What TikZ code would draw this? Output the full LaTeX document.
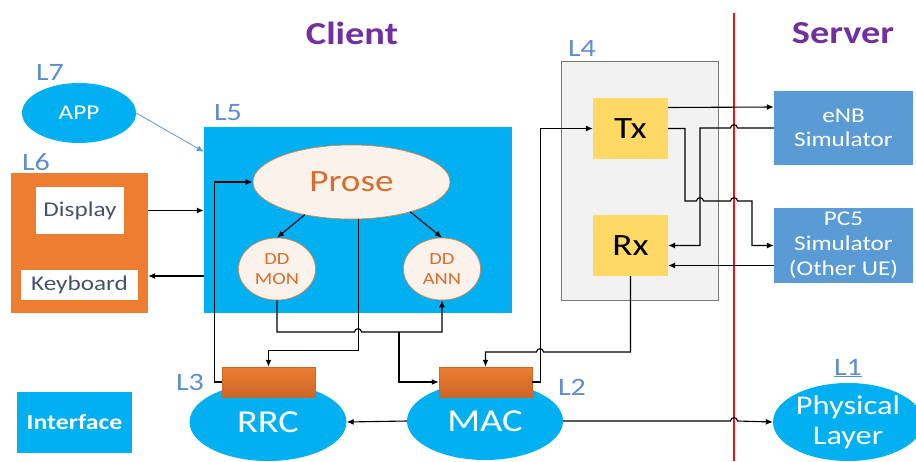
\documentclass[tikz,border=0pt]{standalone}
\usepackage{fontspec}
\setmainfont{Carlito}[FakeStretch=1.2]
\usepackage{xcolor}
\usetikzlibrary{arrows.meta,shapes.geometric,positioning}
\definecolor{clientPurple}{RGB}{112,48,160}
\definecolor{cyBlue}{RGB}{0,176,240}
\definecolor{boxOrange}{RGB}{237,125,49}
\definecolor{boxOrangeDark}{RGB}{204,102,40}
\definecolor{simBlue}{RGB}{91,155,213}
\definecolor{lblBlue}{RGB}{91,141,213}
\definecolor{txYellow}{RGB}{255,217,102}
\definecolor{lfourGray}{RGB}{242,242,242}
\definecolor{lfourEdge}{RGB}{120,120,120}
\definecolor{proseFill}{RGB}{251,242,236}
\definecolor{proseText}{RGB}{214,110,45}
\definecolor{dispText}{RGB}{68,84,106}
\definecolor{splitRed}{RGB}{230,20,20}
\newcommand{\txtsz}[2]{\fontsize{#1}{#2}\selectfont}
\newcommand{\hopr}[2]{-- (#1-3.5,#2) to[out=90,in=90,looseness=1.6] (#1+3.5,#2)}
\newcommand{\hopl}[2]{-- (#1+3.5,#2) to[out=90,in=90,looseness=1.6] (#1-3.5,#2)}
\tikzset{
  conn/.style={draw=black, line width=1.1pt, -{Latex[length=7pt,width=6pt]}},
  layerlbl/.style={text=lblBlue, font=\txtsz{25}{25}},
  sidetitle/.style={text=clientPurple, font=\txtsz{32}{32}\bfseries},
  blueell/.style={ellipse, fill=cyBlue, text=white, inner sep=0pt},
  whitebox/.style={rectangle, fill=white, text=dispText, font=\txtsz{21}{21}, inner sep=0pt},
  ddnode/.style={ellipse, fill=proseFill, draw=boxOrange, line width=0.6pt, text=proseText,
    font=\txtsz{17}{20}, align=center, minimum width=77pt, minimum height=62pt, inner sep=0pt},
  layerbox/.style={rectangle, fill=boxOrange, draw=boxOrangeDark, line width=0.5pt,
    top color=boxOrange, bottom color=boxOrangeDark, minimum width=93pt, minimum height=30pt, inner sep=0pt},
  ioblock/.style={rectangle, fill=txYellow, font=\txtsz{31}{31}, minimum width=75pt, minimum height=61pt, inner sep=0pt},
  simblock/.style={rectangle, fill=simBlue, text=white, align=center, minimum width=139pt, inner sep=0pt}
}

\begin{document}
\begin{tikzpicture}[x=1pt,y=-1pt]
    \useasboundingbox (0,0) rectangle (916,461);
    \fill[white] (0,0) rectangle (916,461);

    % client / server split
    \draw[splitRed, line width=2.6pt] (734,13) -- (734,461);
    \node[sidetitle] (client) at (352,33) {Client};
    \node[sidetitle] (server) at (843,33) {Server};

    % left side blocks
    \node[blueell, minimum width=114pt, minimum height=60pt, font=\txtsz{21}{21}] (app) at (79,113) {APP};
    \node[rectangle, fill=boxOrange, minimum width=137pt, minimum height=140pt, inner sep=0pt] (l6) at (79.5,243) {};
    \node[whitebox, minimum width=88pt, minimum height=47pt] (display) at (80,210.5) {Display};
    \node[whitebox, minimum width=117pt, minimum height=30pt] (keyboard) at (79.5,285) {Keyboard};
    \node[rectangle, fill=cyBlue, minimum width=308pt, minimum height=186pt, inner sep=0pt] (l5) at (358,220) {};
    \node[ellipse, fill=proseFill, draw=boxOrange, line width=0.6pt, text=proseText, font=\txtsz{31}{31},
        minimum width=197pt, minimum height=74pt, inner sep=0pt] (prose) at (351.5,182) {Prose};
    \node[ddnode] (ddmon) at (277,269) {DD\\MON};
    \node[ddnode] (ddann) at (442,269) {DD\\ANN};

    \node[rectangle, fill=cyBlue, text=white, font=\txtsz{21.5}{21.5}\bfseries,
        minimum width=115pt, minimum height=61pt, inner sep=0pt] (iface) at (74.5,422.5) {Interface};

    % lower layers
    \node[blueell, minimum width=157pt, minimum height=78pt, font=\txtsz{32}{32}] (rrc) at (268,422) {RRC};
    \node[layerbox] (rrcbox) at (268.5,382) {};
    \node[blueell, minimum width=156pt, minimum height=78pt, font=\txtsz{32}{32}] (mac) at (485,421) {MAC};
    \node[layerbox] (macbox) at (485.5,382) {};
    \node[blueell, minimum width=150pt, minimum height=78pt, font=\txtsz{27}{30}, align=center] (phy) at (848,422) {Physical\\Layer};

    % L4 and simulators
    \node[rectangle, fill=lfourGray, draw=lfourEdge, line width=0.8pt, minimum width=157pt, minimum height=239pt, inner sep=0pt] (l4) at (639.5,180.5) {};
    \node[ioblock] (tx) at (630.5,128.5) {Tx};
    \node[ioblock] (rx) at (630.5,245.5) {Rx};
    \node[simblock, minimum height=74pt, font=\txtsz{21}{24}] (enb) at (843.5,128) {eNB\\Simulator};
    \node[simblock, minimum height=75pt, font=\txtsz{21}{25}] (pcfive) at (843.5,245.5) {PC5\\Simulator\\(Other UE)};

    % layer labels
    \node[layerlbl] (lseven) at (50,72) {L7};
    \node[layerlbl] (lfive) at (228,113) {L5};
    \node[layerlbl] (lsix) at (36,162) {L6};
    \node[layerlbl] (lfour) at (582,48) {L4};
    \node[layerlbl] (lthree) at (190,382) {L3};
    \node[layerlbl] (ltwo) at (572,387) {L2};
    \node[layerlbl] (lone) at (848,368) {\underline{L1}};

    % connectors
    \draw[conn, draw=simBlue, line width=0.8pt] (app.east) -- ([yshift=-25pt]l5.north west);
    \draw[conn] (display.east -| l6.east) -- (display.east -| l5.west);
    \draw[conn] ([yshift=9pt]keyboard.east -| l5.west) -- ([yshift=9pt]keyboard.east -| l6.east);
    \draw[conn] (prose.215) -- (ddmon.north);
    \draw[conn] (prose.333) -- (ddann.north);
    \draw[conn] ([xshift=7pt]prose.south) -- ++(0,131) -| (rrcbox.north);
    \draw[conn] (ddmon.south) -- (277,332) \hopr{358}{332} -- (442,332) -- (ddann.south);
    \coordinate (tap) at (399,332);
    \draw[conn] (tap) |- (macbox.west);
    \draw[conn] (rrcbox.west) -- ++(-7,0) |- (prose.west);
    \draw[conn] (mac.west) -- (rrc.east);
    \draw[conn] (mac.east) \hopr{734}{421} -- (phy.west);
    \draw[conn] (macbox.east) -- ++(8,0) |- (tx.west);
    \draw[conn] (rx.south) -- (630.5,352) \hopl{540}{352} -| (macbox.north);
    \draw[conn] ([yshift=21pt]tx.east) -- ([yshift=21pt]enb.west);
    \draw[conn] (enb.west) \hopl{734}{128} -- (700,128) |- (rx.east);
    \draw[conn] (tx.east) -| (685,201) \hopr{700}{201} \hopr{734}{201} -- (752,201) |- (pcfive.west);
    \draw[conn] ([yshift=-20pt]pcfive.west) -- ([yshift=-20pt]rx.east);
\end{tikzpicture}
\end{document}
